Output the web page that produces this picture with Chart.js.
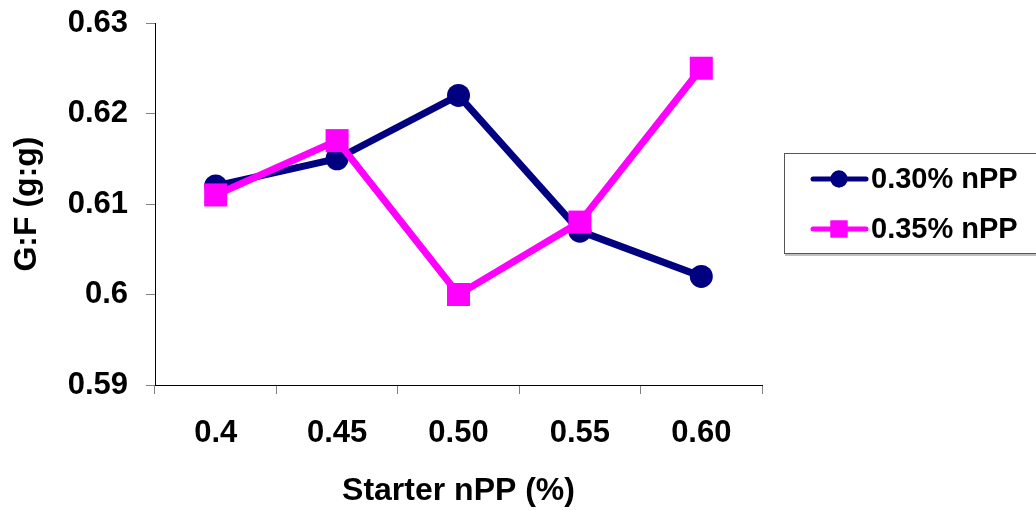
<!DOCTYPE html>
<html>
<head>
<meta charset="utf-8">
<script src="https://cdn.jsdelivr.net/npm/chart.js@4"></script>
<style>
  html, body { margin: 0; padding: 0; background: #fff; }
  #gf { display: block; }
</style>
</head>
<body>
<canvas id="gf" width="1036" height="510"></canvas>
<script>
// starter nPP levels (x axis)
var labels = ['0.4', '0.45', '0.50', '0.55', '0.60'];
// G:F by grower nPP level
var npp030 = [0.612, 0.615, 0.622, 0.607, 0.602];
var npp035 = [0.611, 0.617, 0.600, 0.608, 0.625];
var seriesNames = ['0.30% nPP', '0.35% nPP'];
var yTicks = [0.59, 0.60, 0.61, 0.62, 0.63];

var NAVY = '#000080', PINK = '#FF00FF';
var FONT = '"Liberation Sans", Arial, sans-serif';

// legend drawn in a box on the right like the excel original
var boxLegend = {
  id: 'boxLegend',
  afterDraw: function (chart) {
    var ctx = chart.ctx;
    var items = [
      { text: seriesNames[0], color: NAVY, style: 'circle', r: 8.5 },
      { text: seriesNames[1], color: PINK, style: 'rect', r: 12 }
    ];
    ctx.save();
    ctx.fillStyle = '#c0c0c0';
    ctx.fillRect(785, 254, 260, 2);
    ctx.strokeStyle = '#555';
    ctx.lineWidth = 1;
    ctx.strokeRect(784.5, 153.5, 260, 100);
    items.forEach(function (it, i) {
      var y = 179 + i * 50;
      ctx.strokeStyle = it.color;
      ctx.lineWidth = 5;
      ctx.lineCap = 'round';
      ctx.beginPath();
      ctx.moveTo(813, y);
      ctx.lineTo(866, y);
      ctx.stroke();
      ctx.fillStyle = it.color;
      Chart.helpers.drawPoint(ctx, { pointStyle: it.style, radius: it.r, borderWidth: 0, rotation: 0 }, 839, y);
      ctx.fill();
      ctx.fillStyle = '#000';
      ctx.font = 'bold 29px ' + FONT;
      ctx.textBaseline = 'middle';
      ctx.textAlign = 'left';
      ctx.fillText(it.text, 871, y + 1);
    });
    ctx.restore();
  }
};

var ctx = document.getElementById('gf').getContext('2d');
var chart = new Chart(ctx, {
  type: 'line',
  data: {
    labels: labels,
    datasets: [{
      label: seriesNames[0],
      data: npp030,
      borderColor: NAVY,
      backgroundColor: NAVY,
      borderWidth: 7,
      pointStyle: 'circle',
      pointRadius: 11.5,
      pointHoverRadius: 11.5,
      pointBorderWidth: 0,
      tension: 0,
      order: 1
    }, {
      label: seriesNames[1],
      data: npp035,
      borderColor: PINK,
      backgroundColor: PINK,
      borderWidth: 7,
      pointStyle: 'rect',
      pointRadius: 16.3,
      pointHoverRadius: 16.3,
      pointBorderWidth: 0,
      tension: 0,
      order: 0
    }]
  },
  options: {
    responsive: false,
    animation: false,
    clip: false,
    layout: { padding: { top: 23, left: 4, right: 274, bottom: 0 } },
    plugins: {
      legend: { display: false },
      tooltip: { enabled: false }
    },
    scales: {
      x: {
        offset: true,
        grid: { offset: true, drawOnChartArea: false, drawTicks: true, tickLength: 9, color: '#808080' },
        border: { color: '#000', width: 1 },
        ticks: { color: '#000', padding: 21, font: { family: FONT, size: 31, weight: 'bold' } },
        title: {
          display: true, text: 'Starter nPP (%)', color: '#000',
          padding: { top: 0, bottom: 0 },
          font: { family: FONT, size: 32, weight: 'bold' }
        },
        afterFit: function (s) { s.height = 125; s.paddingLeft = 0; s.paddingRight = 0; }
      },
      y: {
        min: yTicks[0],
        max: yTicks[yTicks.length - 1],
        afterBuildTicks: function (s) { s.ticks = yTicks.map(function (v) { return { value: v }; }); },
        grid: { drawOnChartArea: false, drawTicks: true, tickLength: 9, color: '#808080' },
        border: { color: '#000', width: 1 },
        ticks: {
          color: '#000', padding: 18,
          font: { family: FONT, size: 31, weight: 'bold' },
          callback: function (v) { return String(+Number(v).toFixed(2)); }
        },
        title: {
          display: true, text: 'G:F (g:g)', color: '#000',
          padding: { top: 4, bottom: 4 },
          font: { family: FONT, size: 32, weight: 'bold' }
        },
        afterFit: function (s) { s.width = 151; s.paddingTop = 0; s.paddingBottom = 0; }
      }
    }
  },
  plugins: [boxLegend]
});
</script>
</body>
</html>
